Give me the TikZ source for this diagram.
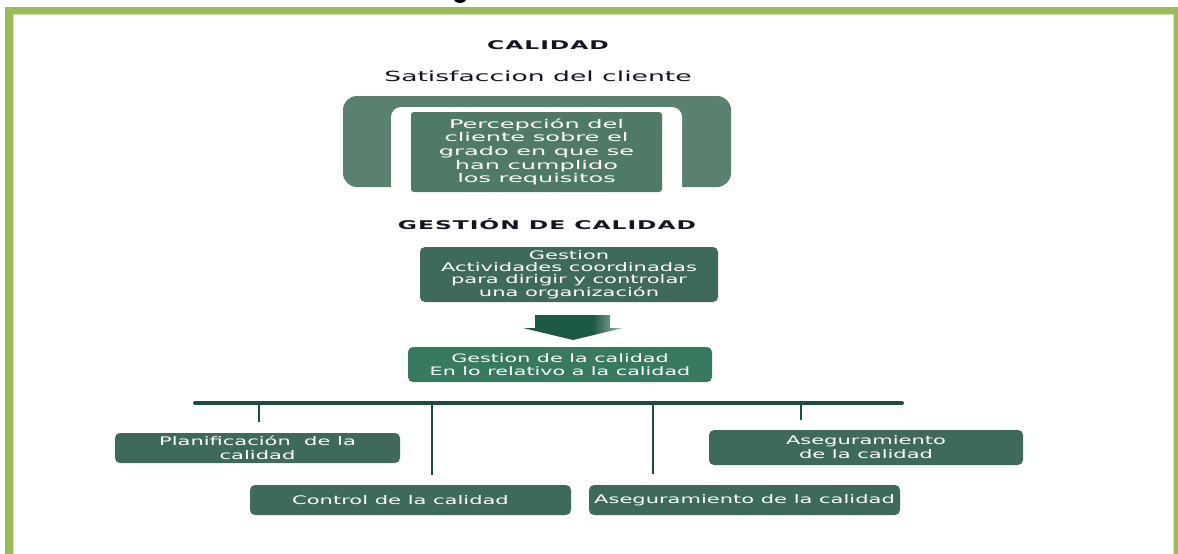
\documentclass[tikz,border=0pt]{standalone}
\usepackage{fontspec}
\newfontfamily\boxfont[FakeStretch=1.78]{DejaVu Sans}
\newfontfamily\wideboxfont[FakeStretch=2.0]{DejaVu Sans}
\newfontfamily\subfont[FakeStretch=1.9]{DejaVu Sans}
\newfontfamily\headfont[FakeStretch=1.95,LetterSpace=8]{DejaVu Sans}
\definecolor{framegreen}{HTML}{9BBB59}
\definecolor{framelight}{HTML}{D3E2B6}
\definecolor{archgreen}{HTML}{5A806F}
\definecolor{innergreen}{HTML}{4E7A67}
\definecolor{boxgreen}{HTML}{3D6A59}
\definecolor{qualgreen}{HTML}{387A60}
\definecolor{bardark}{HTML}{1E4D3C}
\definecolor{arrowdark}{HTML}{1D5A44}
\definecolor{arrowfade}{HTML}{A8BDB3}
\definecolor{headink}{HTML}{15151F}
% dark block arrow that fades out on its right side
\pgfdeclarehorizontalshading{arrowshade}{100bp}{color(0bp)=(arrowdark); color(25bp)=(arrowdark);
  color(60bp)=(arrowdark); color(75bp)=(arrowfade); color(100bp)=(arrowfade)}
\begin{document}
\begin{tikzpicture}[x=1pt,y=-1pt,
  head/.style={font=\headfont\bfseries\fontsize{12}{14}\selectfont, text=headink, inner sep=0pt},
  subhead/.style={font=\subfont\fontsize{14}{16}\selectfont, text=headink, inner sep=0pt},
  greenbox/.style={fill=boxgreen, rounded corners=5pt, text=white, align=center, inner sep=0pt,
    font=\boxfont\fontsize{11.8}{14}\selectfont},
  tick/.style={draw=bardark, line width=2.4pt},
]
\useasboundingbox (0,0) rectangle (1178,554);
\clip (0,0) rectangle (1178,554);

% page frame
\draw[framegreen, line width=7.7pt, line join=miter] (9,570) -- (9,10.5) -- (1178,10.5) -- (1178,570);
\draw[framelight, line width=1pt] (13.3,570) -- (13.3,14.3) -- (1173.5,14.3) -- (1173.5,570);
% descender of the title line above
\fill[black] (460,-2) ellipse (6.5 and 5);

% headings
\node[head] (calidad) at (548,45) {CALIDAD};
\node[subhead] (satisf) at (538,76) {Satisfaccion del cliente};

% arch around the definition of satisfaction
\fill[archgreen, rounded corners=14pt] (343,96) rectangle (731,187);
\fill[white, rounded corners=10pt] (391,200) -- (391,107) -- (682,107) -- (682,200);
\node[fill=innergreen, rounded corners=3pt, text=white, align=center, inner sep=0pt,
  minimum width=251pt, minimum height=80pt,
  font=\wideboxfont\fontsize{12}{13.6}\selectfont] (percep) at (536.5,152)
  {Percepción del\\cliente sobre el\\grado en que se\\han cumplido\\los requisitos};

\node[head] (gestcal) at (547,224) {GESTIÓN DE CALIDAD};

% management boxes
\node[greenbox, minimum width=298pt, minimum height=55pt,
  font=\boxfont\fontsize{11.8}{12.4}\selectfont] (gestion) at (569,274.5)
  {Gestion\\Actividades coordinadas\\para dirigir y controlar\\una organización};
\node[greenbox, fill=qualgreen, minimum width=304pt, minimum height=35pt,
  font=\boxfont\fontsize{11.6}{12.4}\selectfont] (gcal) at (560,364.5)
  {Gestion de la calidad\\En lo relativo a la calidad};

% block arrow between them
\shade[shading=arrowshade]
  (535,315) -- (610,315) -- (610,328) -- (623,328) -- (573,340) -- (523,328) -- (535,328) -- cycle;

% branch bar and ticks
\coordinate (barL) at (195,403);
\coordinate (barR) at (902,403);
\draw[bardark, line width=4pt, line cap=round] (barL) -- (barR);

\node[greenbox, minimum width=285pt, minimum height=30pt] (plan) at (257.5,448)
  {Planificación\ \ de la\\calidad};
\node[greenbox, minimum width=321pt, minimum height=30pt] (control) at (410.5,500)
  {Control de la calidad\hspace*{20pt}};
\node[greenbox, minimum width=311pt, minimum height=30pt] (asegB) at (744.5,500)
  {Aseguramiento de la calidad};
\node[greenbox, minimum width=314pt, minimum height=35pt] (asegR) at (866,447.5)
  {Aseguramiento\\de la calidad};

\coordinate (t1) at (259,422);
\coordinate (t2) at (432,475);
\coordinate (t3) at (653,474);
\coordinate (t4) at (801,420);
\draw[tick] (barL -| t1) -- (t1);
\draw[tick] (barL -| t2) -- (t2);
\draw[tick] (barL -| t3) -- (t3);
\draw[tick] (barL -| t4) -- (t4);
\end{tikzpicture}
\end{document}
